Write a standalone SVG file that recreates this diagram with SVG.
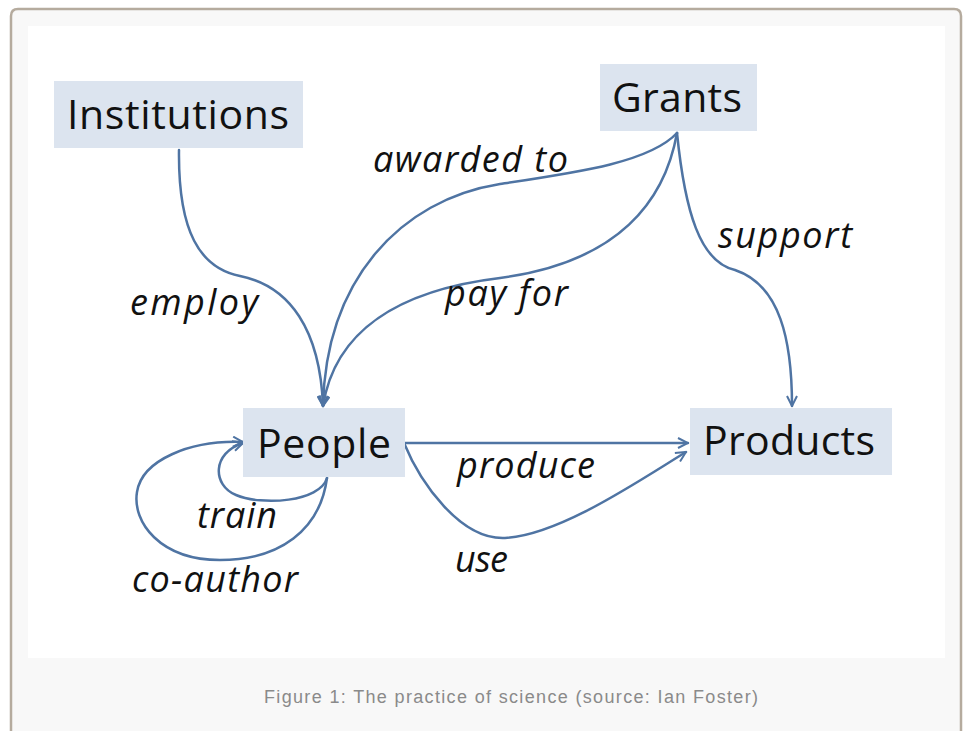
<svg xmlns="http://www.w3.org/2000/svg" width="967" height="731" viewBox="0 0 967 731">
  <style>
    .frame { fill: #f8f8f8; stroke: #b5ab9e; stroke-width: 2.5; }
    .panel { fill: #ffffff; }
    .box { fill: #dce4ef; }
    .name { font-family: "Open Sans", "Noto Sans", sans-serif; font-size: 41px; fill: #111111; }
    .rel { font-family: "Open Sans", "Noto Sans", sans-serif; font-size: 36px; font-style: italic; fill: #111111; }
    .edge { fill: none; stroke: #4f74a3; stroke-width: 2.5; stroke-linecap: round; }
    .caption { font-family: "Liberation Sans", Arial, sans-serif; font-size: 18px; fill: #8a8a8a; }
  </style>
  <defs>
    <marker id="arrow" viewBox="0 0 12 12" refX="11" refY="6" markerWidth="12" markerHeight="12" markerUnits="userSpaceOnUse" orient="auto">
      <path d="M1,1 L11,6 L1,11" fill="none" stroke="#4f74a3" stroke-width="2" stroke-linejoin="miter"/>
    </marker>
  </defs>

  <!-- figure frame and image panel -->
  <path class="frame" d="M11,732 L11,16 Q11,9 18,9 L954,9 Q961,9 961,16 L961,732"/>
  <rect class="panel" x="28" y="26" width="917" height="632"/>

  <!-- connectors -->
  <g id="connectors">
    <path id="employ" class="edge" marker-end="url(#arrow)" d="M179,150 C178,232 200,268 240,276 C290,286 320,330 323,406"/>
    <path id="awarded-to" class="edge" marker-end="url(#arrow)" d="M677,133 C650,162 580,172 500,184 C400,200 326,280 323,406"/>
    <path id="pay-for" class="edge" marker-end="url(#arrow)" d="M677,133 C665,200 620,262 500,278 C400,290 335,330 323,406"/>
    <path id="support" class="edge" marker-end="url(#arrow)" d="M677,133 C685,212 700,262 735,270 C780,285 792,340 792,406"/>
    <path id="produce" class="edge" marker-end="url(#arrow)" d="M404,443 L688,443"/>
    <path id="use" class="edge" marker-end="url(#arrow)" d="M404,443 C420,482 460,540 505,538 C560,535 640,480 686,452"/>
    <path id="train" class="edge" marker-end="url(#arrow)" d="M327,478 C320,502 262,506 236,495 C212,485 212,453 243,443"/>
    <path id="co-author" class="edge" marker-end="url(#arrow)" d="M327,478 C320,530 280,560 220,560 C160,560 132,522 137,492 C142,460 190,440 243,442"/>
  </g>

  <!-- connector labels -->
  <g id="labels">
    <text class="rel" x="130" y="315" textLength="128">employ</text>
    <text class="rel" x="373" y="172" textLength="195">awarded to</text>
    <text class="rel" x="445" y="306" textLength="123">pay for</text>
    <text class="rel" x="718" y="248" textLength="134">support</text>
    <text class="rel" x="457" y="478" textLength="138">produce</text>
    <text class="rel" x="455" y="572" textLength="53">use</text>
    <text class="rel" x="197" y="528" textLength="80">train</text>
    <text class="rel" x="132" y="592" textLength="166">co-author</text>
  </g>

  <!-- nodes -->
  <g id="institutions">
    <rect class="box" x="54" y="81" width="249" height="67"/>
    <text class="name" x="67" y="129" textLength="222">Institutions</text>
  </g>
  <g id="grants">
    <rect class="box" x="600" y="64" width="157" height="67"/>
    <text class="name" x="612" y="112" textLength="130">Grants</text>
  </g>
  <g id="people">
    <rect class="box" x="243" y="408" width="162" height="69"/>
    <text class="name" x="257" y="458" textLength="134">People</text>
  </g>
  <g id="products">
    <rect class="box" x="690" y="408" width="202" height="67"/>
    <text class="name" x="703" y="455" textLength="172">Products</text>
  </g>

  <!-- caption -->
  <text class="caption" x="264" y="703" textLength="494">Figure 1: The practice of science (source: Ian Foster)</text>
</svg>
